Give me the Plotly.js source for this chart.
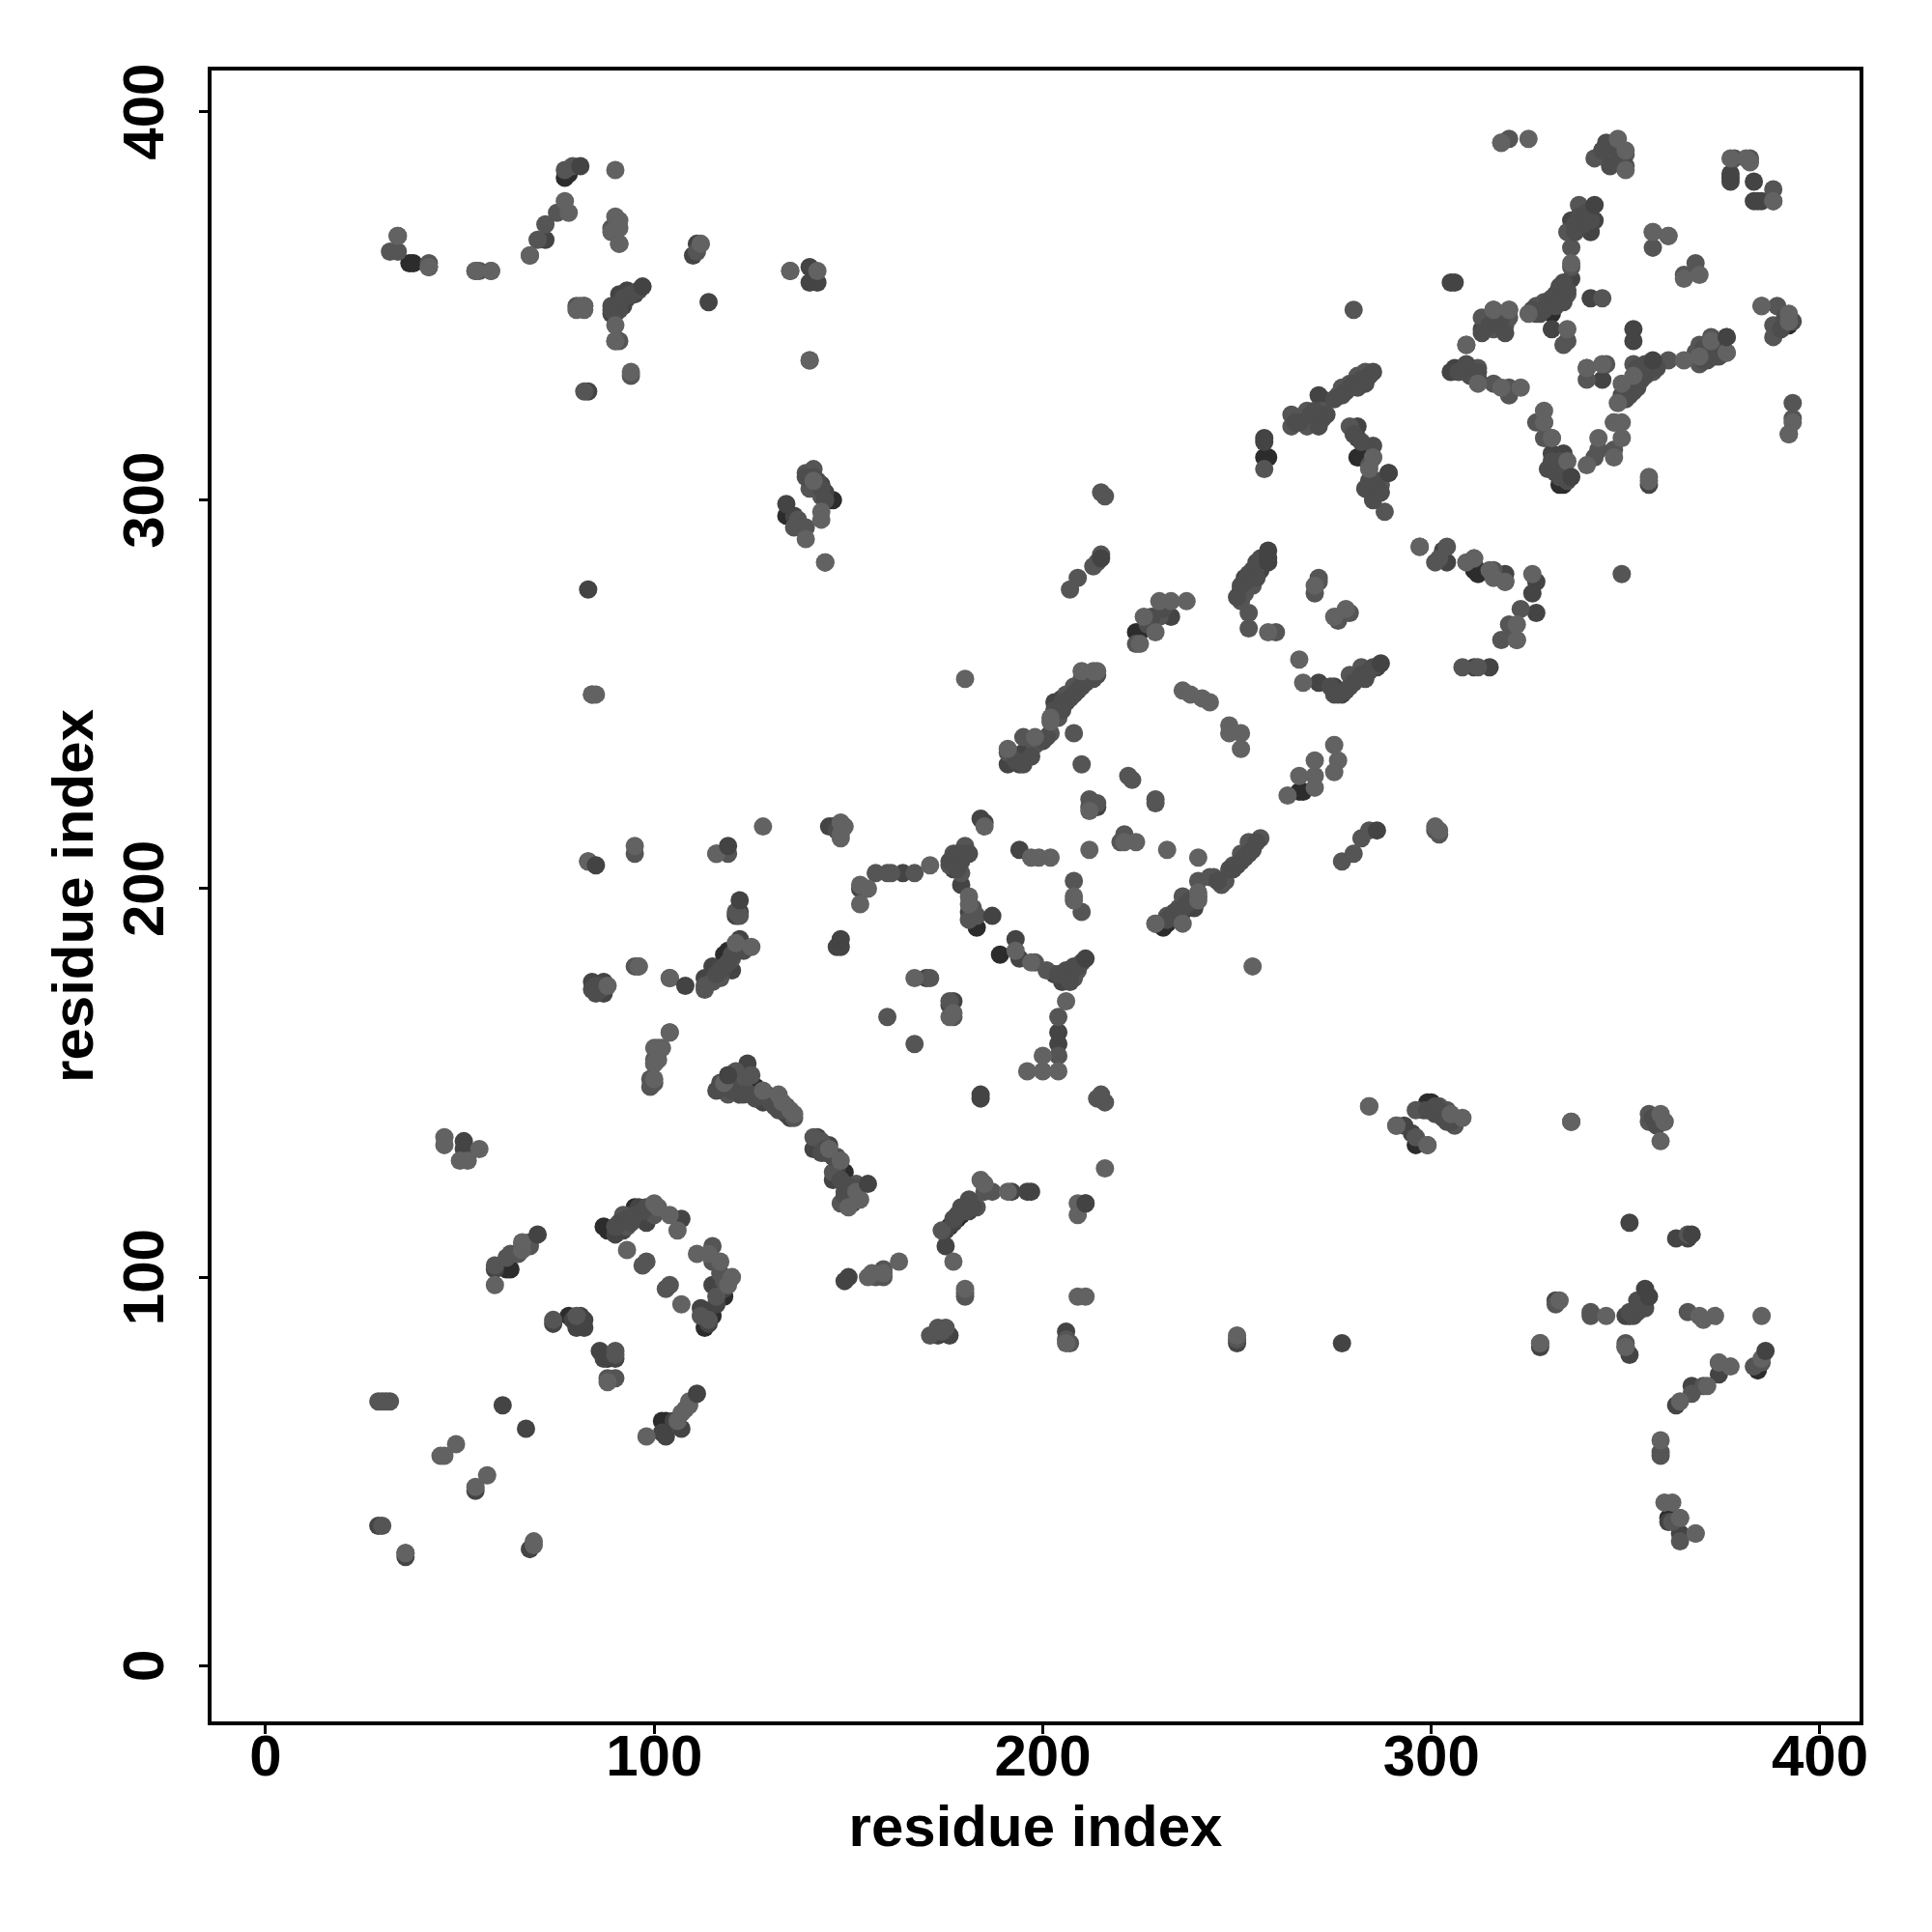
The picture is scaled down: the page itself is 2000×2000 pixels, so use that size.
<!DOCTYPE html>
<html>
<head>
<meta charset="utf-8">
<script src="https://cdn.plot.ly/plotly-3.0.1.min.js"></script>
<style>html,body{margin:0;padding:0;background:#fff}</style>
</head>
<body>
<div id="chart" style="width:2000px;height:2000px"></div>
<script>
// [residue x, residue y], grouped by grey level
const darkestPoints = [[63,102],[62,102],[37,361],[38,361],[78,90],[80,88],[87,80],[88,79],[103,63],[102,63],[87,113],[88,112],[92,114],[95,118],[97,115],[115,90],[113,87],[118,95],[126,149],[127,148],[149,127],[148,126],[176,113],[178,115],[179,116],[183,190],[189,183],[232,191],[231,190],[224,266],[225,266],[281,311],[282,311],[266,225],[267,225],[312,282],[311,282],[312,281],[77,383],[78,384],[145,300],[146,300],[118,183],[119,184],[331,348],[330,349],[345,391],[344,390],[392,345],[391,345],[334,304],[333,304],[300,145],[299,145],[361,38],[362,38],[384,76],[296,134],[351,90],[352,91],[257,311],[258,311],[135,296],[134,296]];
const darkPoints = [[29,36],[36,28],[68,30],[54,45],[61,67],[67,61],[51,135],[51,133],[59,102],[74,88],[79,89],[80,87],[82,87],[82,89],[81,90],[86,81],[87,79],[90,79],[102,60],[103,59],[105,63],[107,61],[90,111],[92,112],[94,116],[98,114],[96,118],[107,115],[115,98],[118,97],[116,93],[112,92],[114,88],[120,152],[121,148],[124,155],[128,145],[129,147],[134,142],[135,141],[142,136],[141,133],[145,134],[147,128],[146,125],[150,119],[151,119],[150,100],[149,99],[175,108],[175,112],[177,114],[181,117],[192,122],[196,122],[184,146],[184,147],[206,86],[176,85],[173,85],[250,83],[277,83],[147,185],[148,185],[193,187],[194,182],[203,178],[205,176],[206,177],[204,160],[204,163],[176,170],[177,171],[170,177],[184,218],[185,217],[153,200],[164,204],[177,205],[178,208],[179,201],[181,194],[194,210],[233,270],[214,221],[239,195],[240,198],[236,194],[195,235],[194,232],[191,232],[196,238],[203,248],[205,249],[252,280],[254,280],[256,282],[251,277],[253,278],[275,252],[277,250],[276,251],[271,253],[283,256],[286,257],[315,257],[311,257],[303,287],[304,284],[272,326],[271,327],[281,319],[281,316],[289,307],[286,303],[285,301],[257,315],[257,316],[306,334],[305,333],[308,334],[312,331],[313,344],[331,344],[305,356],[306,356],[336,357],[335,356],[341,352],[341,369],[336,372],[342,372],[344,331],[352,344],[352,341],[329,320],[331,312],[334,312],[334,309],[353,331],[355,333],[372,337],[371,338],[376,338],[327,279],[326,276],[327,271],[319,281],[319,279],[114,351],[110,363],[111,366],[72,367],[90,350],[91,353],[93,354],[83,328],[140,360],[140,356],[142,356],[143,304],[141,304],[144,302],[134,299],[136,296],[122,194],[121,193],[115,180],[120,179],[122,187],[113,177],[84,176],[87,176],[87,173],[356,304],[351,114],[363,110],[366,110],[355,94],[354,93],[350,90],[353,92],[367,72],[374,75],[363,67],[364,34],[361,37],[328,82],[351,80],[350,82],[383,382],[377,383],[377,382],[377,384],[383,377],[384,377],[385,377],[293,139],[295,137],[298,143],[303,141],[332,94],[83,277],[145,216],[146,216],[90,349],[92,350],[89,348],[91,351],[93,352],[95,353]];
const midPoints = [[30,36],[36,29],[32,68],[31,68],[29,68],[30,68],[59,103],[62,105],[63,106],[65,106],[66,108],[68,108],[68,109],[74,89],[80,90],[90,80],[90,81],[90,74],[88,74],[98,104],[97,103],[103,97],[104,98],[90,113],[92,116],[93,113],[99,117],[100,116],[115,108],[115,104],[117,101],[116,95],[118,99],[112,90],[114,89],[118,149],[119,147],[121,153],[123,150],[125,152],[132,146],[134,144],[136,141],[141,136],[143,135],[144,132],[147,131],[146,127],[152,124],[151,121],[148,119],[149,122],[159,100],[159,102],[157,100],[180,95],[180,96],[182,119],[183,118],[185,122],[187,122],[174,112],[180,118],[171,85],[173,87],[175,87],[174,86],[214,146],[216,145],[215,147],[211,119],[207,83],[206,84],[250,84],[160,167],[167,160],[177,167],[176,171],[171,177],[176,206],[177,209],[179,204],[178,206],[180,209],[180,211],[181,192],[183,193],[182,195],[198,181],[201,179],[207,179],[208,177],[209,179],[204,167],[204,157],[154,200],[157,204],[160,204],[161,204],[167,204],[212,223],[212,221],[214,222],[221,214],[220,212],[222,229],[223,228],[229,222],[229,223],[208,202],[210,194],[232,193],[235,195],[236,198],[229,191],[235,192],[240,202],[244,203],[247,202],[243,203],[249,206],[251,209],[253,212],[256,213],[254,211],[246,201],[195,239],[198,237],[191,235],[202,240],[204,244],[208,240],[210,232],[206,250],[208,252],[210,254],[212,255],[209,280],[207,277],[214,284],[215,286],[213,283],[215,302],[216,301],[257,308],[224,263],[229,270],[230,270],[251,274],[252,276],[254,278],[253,271],[255,283],[271,279],[270,276],[276,270],[278,271],[279,252],[281,254],[282,257],[279,255],[308,257],[301,284],[302,285],[304,288],[311,285],[264,322],[264,319],[268,319],[268,323],[272,323],[276,327],[277,329],[279,330],[281,332],[283,333],[279,319],[284,309],[284,303],[287,304],[288,297],[285,311],[297,288],[349,281],[280,349],[313,347],[316,344],[316,349],[320,349],[320,347],[319,345],[327,350],[329,351],[333,354],[335,353],[336,360],[336,365],[335,369],[338,376],[339,373],[344,352],[334,340],[335,341],[309,340],[340,334],[340,331],[345,335],[350,328],[351,330],[352,335],[357,333],[361,336],[369,340],[369,335],[372,342],[376,342],[368,338],[312,334],[316,330],[320,329],[320,327],[327,320],[329,316],[331,316],[347,320],[343,313],[342,311],[347,313],[316,282],[312,257],[277,207],[280,209],[282,213],[284,215],[301,215],[302,214],[323,272],[321,267],[320,268],[318,264],[322,264],[260,266],[253,267],[271,280],[276,269],[279,271],[350,389],[347,388],[345,388],[346,390],[342,388],[318,392],[320,393],[365,358],[357,365],[357,369],[361,368],[368,361],[393,325],[393,321],[392,317],[385,350],[389,350],[388,345],[388,342],[378,388],[382,388],[388,380],[388,377],[32,364],[34,364],[34,368],[42,361],[42,360],[54,359],[55,359],[58,359],[68,363],[70,367],[72,371],[75,374],[77,385],[79,386],[80,350],[82,350],[91,366],[89,370],[90,341],[91,341],[94,332],[82,328],[111,364],[135,359],[140,336],[139,307],[141,308],[140,303],[143,301],[136,293],[139,293],[137,295],[144,284],[84,250],[83,207],[95,209],[116,209],[119,209],[122,193],[121,194],[120,182],[117,177],[115,176],[113,174],[113,175],[95,180],[96,180],[104,177],[86,174],[99,149],[100,150],[99,151],[100,155],[100,156],[284,144],[291,139],[296,136],[299,134],[296,143],[302,144],[304,143],[306,139],[336,140],[356,140],[360,140],[356,142],[366,91],[341,90],[341,91],[332,93],[328,83],[350,83],[366,111],[370,72],[367,70],[374,78],[364,38],[364,32],[362,37],[368,34],[359,54],[359,55],[383,77],[385,78]];
const ridgePoints = [[205,248],[206,248],[207,249],[208,250],[209,251],[210,252],[211,253],[212,254],[213,254],[214,255],[204,246],[203,246],[205,246],[245,202],[248,205],[249,205],[250,206],[251,207],[252,208],[253,209],[254,210],[255,212],[233,193],[234,194],[236,195],[237,196],[238,197],[232,192],[178,116],[180,117],[182,118],[177,115],[179,118],[181,120],[116,178],[117,179],[118,180],[119,181],[120,183],[121,184],[122,185],[123,184],[250,275],[251,278],[252,279],[253,281],[254,282],[255,284],[256,285],[255,280],[277,327],[278,328],[279,329],[280,330],[282,331],[284,332],[285,333],[283,330],[281,329],[275,326],[274,252],[275,250],[276,250],[278,251],[280,253],[282,255],[283,254],[284,256],[285,257],[328,348],[329,349],[330,351],[331,352],[332,353],[333,355],[334,356],[335,354],[334,351],[332,350],[349,327],[350,326],[351,327],[352,328],[353,329],[354,331],[355,332],[356,334],[358,334],[355,335],[349,326],[353,334],[205,178],[206,179],[207,178],[208,180],[209,180],[210,181],[204,178],[207,176],[176,207],[177,208],[178,209],[178,205],[179,207],[179,209],[181,209],[299,143],[300,143],[301,142],[301,144],[302,143],[303,142],[304,140],[305,140],[306,141],[352,90],[353,91],[354,92],[355,92],[355,95],[351,91],[353,94],[330,308],[332,307],[333,310],[331,310],[333,306],[334,307],[335,305],[141,306],[142,305],[143,303],[144,300],[139,306],[89,350],[91,349],[92,352],[94,353],[96,354],[90,348],[89,349],[338,373],[337,371],[339,371],[340,374],[341,372],[337,369],[90,113],[91,114],[93,115],[94,114],[95,116],[97,117],[98,118],[86,175],[85,175],[84,174],[85,173],[147,215],[116,148],[117,150],[119,150],[120,148],[122,147],[123,147],[125,147],[126,146],[130,145],[131,144],[132,143],[133,143],[143,132],[144,133],[146,131],[148,125],[149,124],[149,121],[150,122],[151,123],[152,120],[312,333],[310,332],[309,335],[307,333],[195,232],[197,234],[193,233],[200,238],[201,239],[327,348],[326,349],[370,336],[371,336],[370,339],[373,337],[374,339],[374,337],[350,386],[346,386],[344,390],[345,392],[348,390],[349,388],[283,303],[284,305],[285,305],[286,305],[287,302],[285,300],[285,314],[282,315],[280,317],[228,270],[227,268],[231,272],[272,321],[273,322],[271,319],[266,320],[265,320],[270,323],[269,322],[313,343],[315,345],[317,346],[319,343],[318,347],[358,141],[357,141],[358,139],[392,347],[393,346],[390,344],[391,347]];
const lightPoints = [[36,29],[69,32],[69,31],[54,46],[57,49],[45,54],[46,54],[49,57],[50,130],[52,130],[46,136],[46,134],[55,133],[59,98],[66,107],[66,109],[88,73],[98,59],[106,63],[107,65],[108,66],[109,67],[109,68],[93,107],[100,119],[101,118],[104,116],[106,112],[107,93],[111,106],[114,106],[117,104],[120,100],[119,98],[104,163],[100,159],[101,159],[102,159],[101,156],[100,151],[118,150],[128,148],[132,147],[133,145],[135,143],[136,142],[145,133],[148,130],[150,118],[153,120],[152,122],[163,104],[155,100],[156,101],[159,101],[177,104],[180,97],[184,125],[185,124],[191,122],[209,119],[209,116],[216,128],[209,95],[211,95],[206,83],[250,85],[185,216],[254,180],[180,254],[167,177],[176,167],[177,168],[196,153],[200,153],[200,157],[204,153],[206,171],[153,196],[153,201],[155,200],[171,206],[181,198],[181,196],[197,181],[193,184],[212,210],[197,208],[199,208],[202,208],[208,197],[208,198],[221,212],[224,212],[232,210],[240,208],[212,220],[229,191],[236,191],[240,197],[240,199],[202,243],[202,244],[198,239],[191,236],[210,256],[213,256],[214,256],[233,274],[237,274],[230,274],[226,270],[229,266],[225,263],[236,251],[238,250],[241,249],[243,248],[248,242],[248,240],[251,236],[251,240],[258,266],[266,259],[267,253],[275,237],[276,233],[275,230],[270,233],[270,229],[266,229],[263,224],[270,226],[275,270],[278,272],[270,278],[285,311],[284,308],[297,288],[309,284],[311,285],[315,282],[316,280],[319,279],[326,281],[322,268],[322,264],[340,334],[344,335],[348,325],[352,332],[349,330],[365,336],[369,337],[372,341],[376,338],[329,323],[329,320],[331,316],[347,320],[349,320],[349,316],[343,316],[340,309],[335,310],[347,311],[325,348],[336,361],[335,344],[316,349],[320,349],[309,340],[318,329],[323,329],[312,330],[356,306],[356,305],[325,393],[318,392],[350,385],[348,393],[350,390],[377,388],[381,388],[382,387],[388,377],[369,358],[365,357],[361,368],[357,369],[385,350],[392,348],[392,346],[393,320],[392,317],[34,368],[42,360],[54,359],[58,359],[77,377],[78,374],[90,373],[91,372],[89,369],[91,370],[91,366],[90,345],[90,341],[94,333],[112,366],[82,350],[81,350],[80,349],[82,349],[90,385],[68,363],[135,359],[142,359],[140,336],[141,305],[143,297],[143,295],[139,290],[144,284],[84,250],[85,250],[95,211],[83,207],[128,216],[116,209],[148,217],[148,214],[149,216],[148,213],[125,185],[121,186],[104,177],[96,180],[88,175],[104,163],[100,155],[284,144],[291,139],[299,134],[305,142],[308,141],[336,140],[359,142],[359,135],[360,140],[345,90],[369,90],[370,89],[373,90],[385,90],[333,94],[377,77],[374,78],[371,72],[364,68],[359,58],[360,42],[362,42],[364,38],[368,34],[302,215],[301,216],[350,82],[385,79],[328,83]];
const topDarkPoints = [[70,111],[111,70],[155,124],[197,122],[97,355],[81,386],[211,182],[258,287],[258,284],[287,258],[376,342],[367,111],[355,97],[356,95],[386,81],[85,206],[119,211],[122,197],[108,175],[187,193],[289,307],[342,376],[357,336],[336,306],[119,152],[211,119],[286,215],[258,285],[215,285],[148,187]];
const xTicks = [0, 100, 200, 300, 400];
const yTicks = [0, 100, 200, 300, 400];
const axisLabel = 'residue index';

const groups = [
  [darkestPoints, '#2c2c2c'],
  [darkPoints, '#444444'],
  [midPoints, '#555555'],
  [ridgePoints, '#4d4d4d'],
  [lightPoints, '#626262'],
  [topDarkPoints, '#434343']
];
const traces = groups.map(([pts, color]) => ({
  type: 'scatter',
  mode: 'markers',
  x: pts.map(p => p[0]),
  y: pts.map(p => p[1]),
  marker: {size: 19, color: color, line: {width: 0}},
  hoverinfo: 'x+y',
  showlegend: false,
  cliponaxis: true
}));
const fontFamily = '"Liberation Sans", Arial, sans-serif';
const axisBase = {
  showgrid: false,
  zeroline: false,
  showline: true,
  mirror: true,
  linecolor: '#000',
  linewidth: 4,
  ticks: 'outside',
  ticklen: 9,
  tickwidth: 3,
  tickcolor: '#000',
  tickmode: 'array',
  tickfont: {family: fontFamily, size: 60, color: '#000', weight: 700}
};
const layout = {
  width: 2000,
  height: 2000,
  margin: {l: 219, r: 75, t: 73, b: 218, pad: 0},
  paper_bgcolor: '#fff',
  plot_bgcolor: '#fff',
  font: {family: fontFamily},
  xaxis: Object.assign({}, axisBase, {
    range: [-13.92, 410.2],
    tickvals: xTicks,
    ticktext: xTicks.map(String),
    automargin: false,
    ticklabelstandoff: -29,
    title: {text: axisLabel, standoff: 20, font: {family: fontFamily, size: 60, color: '#000', weight: 700}}
  }),
  yaxis: Object.assign({}, axisBase, {
    range: [-14.35, 410.6],
    tickvals: yTicks,
    ticktext: yTicks.map(String),
    tickangle: -90,
    automargin: false,
    ticklabelstandoff: 13,
    ticklabelshift: 9,
    title: {text: axisLabel, standoff: 0, font: {family: fontFamily, size: 60, color: '#000', weight: 700}}
  })
};
Plotly.newPlot('chart', traces, layout, {displayModeBar: false, responsive: false});
</script>
</body>
</html>
